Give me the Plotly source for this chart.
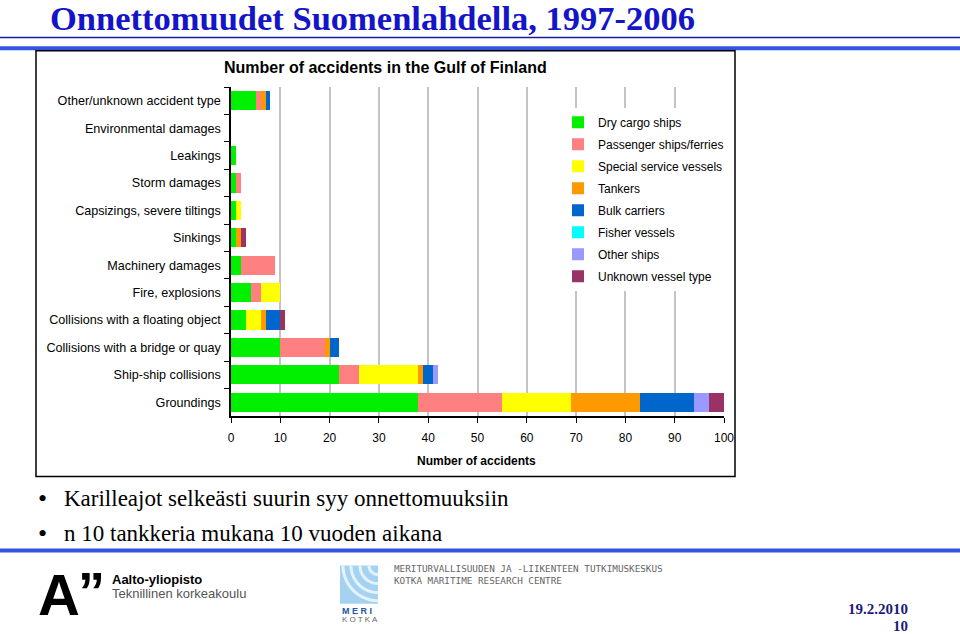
import math
import plotly.graph_objects as go

categories = [
    "Other/unknown accident type",
    "Environmental damages",
    "Leakings",
    "Storm damages",
    "Capsizings, severe tiltings",
    "Sinkings",
    "Machinery damages",
    "Fire, explosions",
    "Collisions with a floating object",
    "Collisions with a bridge or quay",
    "Ship-ship collisions",
    "Groundings",
]

dry_cargo = [5, 0, 1, 1, 1, 1, 2, 4, 3, 10, 22, 38]
passenger = [1, 0, 0, 1, 0, 0, 7, 2, 0, 9, 4, 17]
special = [0, 0, 0, 0, 1, 0, 0, 4, 3, 0, 12, 14]
tankers = [1, 0, 0, 0, 0, 1, 0, 0, 1, 1, 1, 14]
bulk = [1, 0, 0, 0, 0, 0, 0, 0, 3, 2, 2, 11]
fisher = [0, 0, 0, 0, 0, 0, 0, 0, 0, 0, 0, 0]
other_ships = [0, 0, 0, 0, 0, 0, 0, 0, 0, 0, 1, 3]
unknown = [0, 0, 0, 0, 0, 1, 0, 0, 1, 0, 0, 3]

series_names = ["Dry cargo ships", "Passenger ships/ferries", "Special service vessels",
                "Tankers", "Bulk carriers", "Fisher vessels", "Other ships", "Unknown vessel type"]
series_values = [dry_cargo, passenger, special, tankers, bulk, fisher, other_ships, unknown]
series_colors = ["#00F000", "#FF8080", "#FFFF00", "#FF9900", "#0066CC", "#00FFFF", "#9999FF", "#993366"]

x_ticks = [0, 10, 20, 30, 40, 50, 60, 70, 80, 90, 100]

W, H = 960, 634
X0, X1 = 231, 724
Y0, Y1 = 87.3, 415.7


def px(x):
    return (x - X0) / (X1 - X0)


def py(y):
    return (Y1 - y) / (Y1 - Y0)


fig = go.Figure()
for name, vals, col in zip(series_names, series_values, series_colors):
    fig.add_trace(go.Bar(
        y=categories, x=vals, name=name, orientation="h",
        marker=dict(color=col, line=dict(width=0)),
        legendgroup=name,
    ))

SANS = "Liberation Sans, Arial, sans-serif"
SERIF = "Liberation Serif, Times New Roman, serif"

annotations = []
shapes = []


def text(x, y, s, size, color="black", family=SANS, anchor="left", bold=False):
    if bold:
        s = "<b>" + s + "</b>"
    annotations.append(dict(
        x=px(x), y=py(y), xref="paper", yref="paper", text=s, showarrow=False,
        xanchor=anchor, yanchor="middle", font=dict(size=size, color=color, family=family),
    ))


# Slide title
text(372, 18, "Onnettomuudet Suomenlahdella, 1997-2006", 34.5, "#1414C8", SERIF, "center", True)
# Blue separator lines
shapes.append(dict(type="line", xref="paper", yref="paper", x0=px(0), x1=px(960),
                   y0=py(38), y1=py(38), line=dict(color="#1A1A9A", width=1.5)))
shapes.append(dict(type="line", xref="paper", yref="paper", x0=px(0), x1=px(960),
                   y0=py(48.5), y1=py(48.5), line=dict(color="#3355DD", width=4)))
# Chart box
shapes.append(dict(type="rect", xref="paper", yref="paper", x0=px(36), x1=px(735),
                   y0=py(51), y1=py(476), line=dict(color="black", width=1.5)))
# Chart title and axis title
text(385, 68, "Number of accidents in the Gulf of Finland", 16, "black", SANS, "center", True)
text(476, 461, "Number of accidents", 12, "black", SANS, "center", True)

# Bullets
text(36, 498, "•", 26, "black", SERIF)
text(62, 498, "Karilleajot selkeästi suurin syy onnettomuuksiin", 23, "black", SERIF)
text(36, 533, "•", 26, "black", SERIF)
text(62, 533, "n 10 tankkeria mukana 10 vuoden aikana", 23, "black", SERIF)

# Bottom blue line
shapes.append(dict(type="line", xref="paper", yref="paper", x0=px(0), x1=px(960),
                   y0=py(550), y1=py(550), line=dict(color="#3355DD", width=4)))

# Aalto logo
text(36, 594, "A", 58, "black", SANS, "left", True)
text(76, 590, "”", 54, "black", SANS, "left", True)
text(110, 579, "Aalto-yliopisto", 13, "black", SANS, "left", True)
text(110, 593, "Teknillinen korkeakoulu", 13, "#555555", SANS)

# Meri Kotka logo (simplified)
shapes.append(dict(type="rect", xref="paper", yref="paper", x0=px(340), x1=px(378),
                   y0=py(565), y1=py(603), line=dict(width=0), fillcolor="#A6D2F1"))
for r in (9, 18, 27, 35):
    pts = []
    for i in range(21):
        t = math.radians(90 * i / 20)
        xx = 378 - r * math.sin(t)
        yy = 565 + r * math.cos(t)
        xx = max(xx, 340)
        yy = min(yy, 603)
        pts.append(f"{px(xx):.5f},{py(yy):.5f}")
    shapes.append(dict(type="path", xref="paper", yref="paper", path="M" + " L".join(pts),
                       line=dict(color="#E4F2FC", width=3)))
text(340, 610, "M E R I", 9, "#2255AA", SANS, "left", True)
text(340, 619, "K O T K A", 8, "#666666", SANS)
text(392, 568, "MERITURVALLISUUDEN JA -LIIKENTEEN TUTKIMUSKESKUS", 9.3, "#666666", "DejaVu Sans Mono")
text(392, 580, "KOTKA MARITIME RESEARCH CENTRE", 9.3, "#666666", "DejaVu Sans Mono")

# Date and page number
text(910, 608, "19.2.2010", 15, "#1C1C78", SERIF, "right", True)
text(910, 625, "10", 15, "#1C1C78", SERIF, "right", True)

fig.update_layout(
    width=W, height=H,
    margin=dict(l=X0, r=W - X1, t=Y0, b=H - Y1, pad=0, autoexpand=False),
    paper_bgcolor="white", plot_bgcolor="white",
    barmode="stack", bargap=0.3,
    showlegend=True,
    legend=dict(
        x=px(558), y=py(108), xanchor="left", yanchor="top",
        bgcolor="white", font=dict(size=12, family=SANS, color="black"),
        traceorder="grouped", tracegroupgap=3, itemwidth=30,
    ),
    xaxis=dict(
        range=[0, 100], tickvals=x_ticks, ticktext=[str(v) for v in x_ticks],
        showgrid=True, gridcolor="#C4C4C4", gridwidth=1.5,
        showline=True, linecolor="black", linewidth=1.5,
        ticks="outside", ticklen=5, tickcolor="black", tickwidth=1,
        tickfont=dict(size=12, family=SANS, color="black"),
        ticklabelstandoff=5, automargin=False, zeroline=False,
    ),
    yaxis=dict(
        categoryorder="array", categoryarray=categories, autorange="reversed",
        showline=True, linecolor="black", linewidth=1.5, showgrid=False,
        ticks="outside", ticklen=5, tickcolor="black", tickson="boundaries",
        tickfont=dict(size=12.6, family=SANS, color="black"),
        ticklabelstandoff=6, automargin=False,
    ),
    annotations=annotations,
    shapes=shapes,
    font=dict(family=SANS),
)

fig.write_html("out.html", config={"displayModeBar": False},
               post_script="document.body.style.margin='0';")
